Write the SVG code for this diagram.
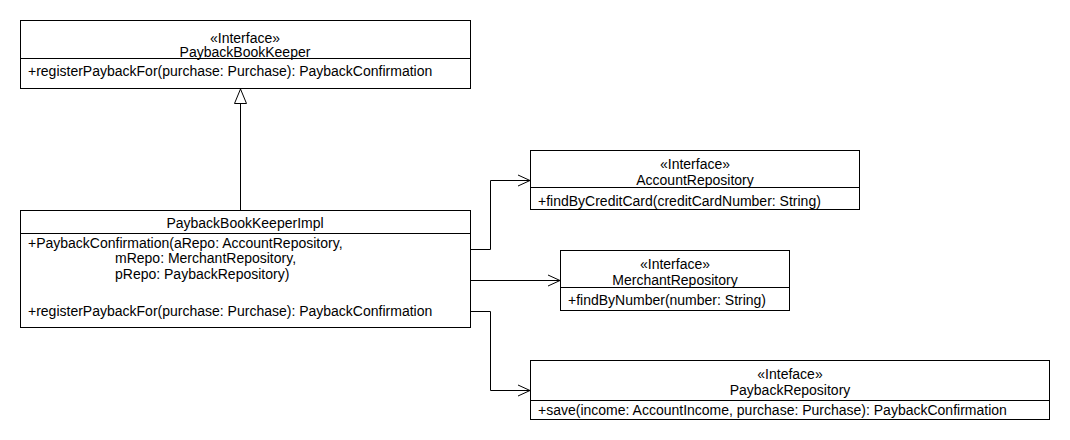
<svg xmlns="http://www.w3.org/2000/svg" width="1070" height="440" viewBox="0 0 1070 440">
<style>
.box{fill:#fff;stroke:#000;stroke-width:1}
.t{font-family:"Liberation Sans",Arial,sans-serif;font-size:14px;fill:#000}
.c{text-anchor:middle}
.ln{fill:none;stroke:#000;stroke-width:1}
</style>
<rect width="1070" height="440" fill="#fff"/>
<g id="PaybackBookKeeper">
<rect class="box" x="20.5" y="20.5" width="450" height="68"/>
<line class="ln" x1="20.5" y1="58.5" x2="470.5" y2="58.5"/>
<text class="t c" x="245" y="43">«Interface»</text>
<text class="t c" x="245" y="57">PaybackBookKeeper</text>
<text class="t" x="28" y="76">+registerPaybackFor(purchase: Purchase): PaybackConfirmation</text>
</g>
<g id="PaybackBookKeeperImpl">
<rect class="box" x="20.5" y="210.5" width="450" height="117"/>
<line class="ln" x1="20.5" y1="233.5" x2="470.5" y2="233.5"/>
<text class="t c" x="245" y="228">PaybackBookKeeperImpl</text>
<text class="t" x="28" y="248">+PaybackConfirmation(aRepo: AccountRepository,</text>
<text class="t" x="115" y="263">mRepo: MerchantRepository,</text>
<text class="t" x="115" y="279">pRepo: PaybackRepository)</text>
<text class="t" x="28" y="316">+registerPaybackFor(purchase: Purchase): PaybackConfirmation</text>
</g>
<g id="AccountRepository">
<rect class="box" x="530.5" y="150.5" width="329" height="59"/>
<line class="ln" x1="530.5" y1="187.5" x2="859.5" y2="187.5"/>
<text class="t c" x="695" y="169">«Interface»</text>
<text class="t c" x="695" y="185">AccountRepository</text>
<text class="t" x="538" y="206">+findByCreditCard(creditCardNumber: String)</text>
</g>
<g id="MerchantRepository">
<rect class="box" x="560.5" y="250.5" width="229" height="60"/>
<line class="ln" x1="560.5" y1="287.5" x2="789.5" y2="287.5"/>
<text class="t c" x="675" y="269">«Interface»</text>
<text class="t c" x="675" y="285">MerchantRepository</text>
<text class="t" x="568" y="305">+findByNumber(number: String)</text>
</g>
<g id="PaybackRepository">
<rect class="box" x="530.5" y="360.5" width="519" height="59"/>
<line class="ln" x1="530.5" y1="400.5" x2="1049.5" y2="400.5"/>
<text class="t c" x="790" y="379">«Inteface»</text>
<text class="t c" x="790" y="395">PaybackRepository</text>
<text class="t" x="538" y="415">+save(income: AccountIncome, purchase: Purchase): PaybackConfirmation</text>
</g>
<g id="connectors">
<line class="ln" x1="240.5" y1="210" x2="240.5" y2="103"/>
<polygon class="box" points="240.5,89 234.5,103.5 246.5,103.5"/>
<polyline class="ln" points="470,249.5 490.5,249.5 490.5,180.5 530,180.5"/>
<polyline class="ln" points="518,175 530,180.5 518,186"/>
<polyline class="ln" points="470,280.5 560,280.5"/>
<polyline class="ln" points="548,275 560,280.5 548,286"/>
<polyline class="ln" points="470,311.5 490.5,311.5 490.5,390.5 530,390.5"/>
<polyline class="ln" points="518,385 530,390.5 518,396"/>
</g>
</svg>
